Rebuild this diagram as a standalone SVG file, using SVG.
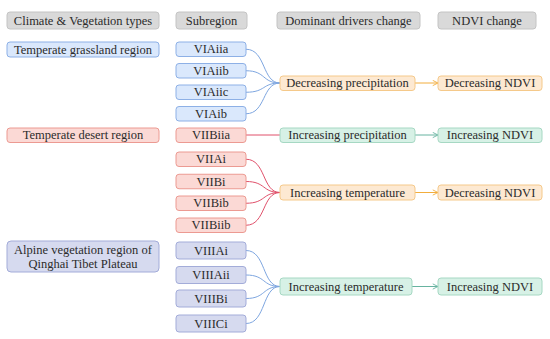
<svg xmlns="http://www.w3.org/2000/svg" width="550" height="339" viewBox="0 0 550 339">
<defs>
<style>
text{font-family:"Liberation Serif","Times New Roman",serif;font-size:12.5px;fill:#2b2b2b;text-anchor:middle;dominant-baseline:central}
rect{stroke-width:1}
.hd{fill:#d9d9d9;stroke:#c4c4c4}
.bl{fill:#dae8fc;stroke:#8db0e6}
.rd{fill:#fbd9d5;stroke:#ec9a92}
.lv{fill:#d6daef;stroke:#a3acd9}
.or{fill:#fde9d2;stroke:#f5c98a}
.gr{fill:#d7f1e6;stroke:#a6d8c3}
.cb{fill:none;stroke:#7ea6e0;stroke-width:1}
.cr{fill:none;stroke:#e0506a;stroke-width:1}
.co{fill:none;stroke:#f2ad3c;stroke-width:1}
.cg{fill:none;stroke:#67b3a0;stroke-width:1}
</style>
<marker id="ao" viewBox="0 0 8 8" refX="7" refY="4" markerWidth="7" markerHeight="7" markerUnits="userSpaceOnUse" orient="auto"><path d="M1,1 L7,4 L1,7" fill="none" stroke="#f2ad3c" stroke-width="1"/></marker>
<marker id="ag" viewBox="0 0 8 8" refX="7" refY="4" markerWidth="7" markerHeight="7" markerUnits="userSpaceOnUse" orient="auto"><path d="M1,1 L7,4 L1,7" fill="none" stroke="#67b3a0" stroke-width="1"/></marker>
</defs>

<g id="headers">
<g id="h-climate"><rect class="hd" x="7" y="12" width="152" height="17" rx="3"/><text x="83" y="20.5">Climate &amp; Vegetation types</text></g>
<g id="h-subregion"><rect class="hd" x="176" y="12" width="71" height="17" rx="3"/><text x="211.5" y="20.5">Subregion</text></g>
<g id="h-drivers"><rect class="hd" x="277" y="12" width="143" height="17" rx="3"/><text x="348.5" y="20.5">Dominant drivers change</text></g>
<g id="h-ndvi"><rect class="hd" x="438" y="12" width="98" height="17" rx="3"/><text x="487" y="20.5">NDVI change</text></g>
</g>

<g id="connectors">
<path class="cb" d="M246,49.25 C266,49.25 262,83 280,83"/>
<path class="cb" d="M246,70.75 C266,70.75 262,83 280,83"/>
<path class="cb" d="M246,92.25 C266,92.25 262,83 280,83"/>
<path class="cb" d="M246,113.75 C266,113.75 262,83 280,83"/>
<path class="cr" d="M246,135 L280,135"/>
<path class="cr" d="M246,159.25 C266,159.25 262,192.5 280,192.5"/>
<path class="cr" d="M246,181.5 C266,181.5 262,192.5 280,192.5"/>
<path class="cr" d="M246,203.25 C266,203.25 262,192.5 280,192.5"/>
<path class="cr" d="M246,225.25 C266,225.25 262,192.5 280,192.5"/>
<path class="cb" d="M246,250.5 C266,250.5 262,286.5 280,286.5"/>
<path class="cb" d="M246,275 C266,275 262,286.5 280,286.5"/>
<path class="cb" d="M246,298.5 C266,298.5 262,286.5 280,286.5"/>
<path class="cb" d="M246,323.5 C266,323.5 262,286.5 280,286.5"/>
<path class="co" d="M415,83 L438,83" marker-end="url(#ao)"/>
<path class="cg" d="M415,135 L438,135" marker-end="url(#ag)"/>
<path class="co" d="M415,192.5 L438,192.5" marker-end="url(#ao)"/>
<path class="cg" d="M412,286.5 L438,286.5" marker-end="url(#ag)"/>
</g>

<g id="n-grassland"><rect class="bl" x="7" y="42" width="152" height="15" rx="3"/><text x="83" y="49.5">Temperate grassland region</text></g>
<g id="n-desert"><rect class="rd" x="7" y="128" width="152" height="14.5" rx="3"/><text x="83" y="135.25">Temperate desert region</text></g>
<g id="n-alpine"><rect class="lv" x="7" y="241" width="152" height="31" rx="4"/><text x="83" y="249.5">Alpine vegetation region of</text><text x="83" y="263.5">Qinghai Tibet Plateau</text></g>

<g id="n-VIAiia"><rect class="bl" x="176" y="42" width="70" height="14.5" rx="3"/><text x="211" y="49.25">VIAiia</text></g>
<g id="n-VIAiib"><rect class="bl" x="176" y="63.5" width="70" height="14.5" rx="3"/><text x="211" y="70.75">VIAiib</text></g>
<g id="n-VIAiic"><rect class="bl" x="176" y="85" width="70" height="14.5" rx="3"/><text x="211" y="92.25">VIAiic</text></g>
<g id="n-VIAib"><rect class="bl" x="176" y="106.5" width="70" height="14.5" rx="3"/><text x="211" y="113.75">VIAib</text></g>
<g id="n-VIIBiia"><rect class="rd" x="176" y="128" width="70" height="14.5" rx="3"/><text x="211" y="135.25">VIIBiia</text></g>
<g id="n-VIIAi"><rect class="rd" x="176" y="152" width="70" height="14.5" rx="3"/><text x="211" y="159.25">VIIAi</text></g>
<g id="n-VIIBi"><rect class="rd" x="176" y="174.25" width="70" height="14.5" rx="3"/><text x="211" y="181.5">VIIBi</text></g>
<g id="n-VIIBib"><rect class="rd" x="176" y="196" width="70" height="14.5" rx="3"/><text x="211" y="203.25">VIIBib</text></g>
<g id="n-VIIBiib"><rect class="rd" x="176" y="218" width="70" height="14.5" rx="3"/><text x="211" y="225.25">VIIBiib</text></g>
<g id="n-VIIIAi"><rect class="lv" x="176" y="242" width="70" height="17" rx="3"/><text x="211" y="250.5">VIIIAi</text></g>
<g id="n-VIIIAii"><rect class="lv" x="176" y="266.5" width="70" height="17" rx="3"/><text x="211" y="275">VIIIAii</text></g>
<g id="n-VIIIBi"><rect class="lv" x="176" y="290" width="70" height="17" rx="3"/><text x="211" y="298.5">VIIIBi</text></g>
<g id="n-VIIICi"><rect class="lv" x="176" y="315" width="70" height="17" rx="3"/><text x="211" y="323.5">VIIICi</text></g>

<g id="n-dec-precip"><rect class="or" x="280" y="76" width="135" height="14.5" rx="3"/><text x="347.5" y="83.25">Decreasing precipitation</text></g>
<g id="n-inc-precip"><rect class="gr" x="280" y="128" width="135" height="14.5" rx="3"/><text x="347.5" y="135.25">Increasing precipitation</text></g>
<g id="n-inc-temp1"><rect class="or" x="280" y="185" width="135" height="15" rx="3"/><text x="347.5" y="192.5">Increasing temperature</text></g>
<g id="n-inc-temp2"><rect class="gr" x="280" y="278" width="132" height="17" rx="3"/><text x="346" y="286.5">Increasing temperature</text></g>

<g id="n-dec-ndvi1"><rect class="or" x="438" y="76" width="104" height="14.5" rx="3"/><text x="490" y="83.25">Decreasing NDVI</text></g>
<g id="n-inc-ndvi1"><rect class="gr" x="438" y="128" width="104" height="14.5" rx="3"/><text x="490" y="135.25">Increasing NDVI</text></g>
<g id="n-dec-ndvi2"><rect class="or" x="438" y="185" width="104" height="15" rx="3"/><text x="490" y="192.5">Decreasing NDVI</text></g>
<g id="n-inc-ndvi2"><rect class="gr" x="438" y="278" width="104" height="17" rx="3"/><text x="490" y="286.5">Increasing NDVI</text></g>
</svg>
